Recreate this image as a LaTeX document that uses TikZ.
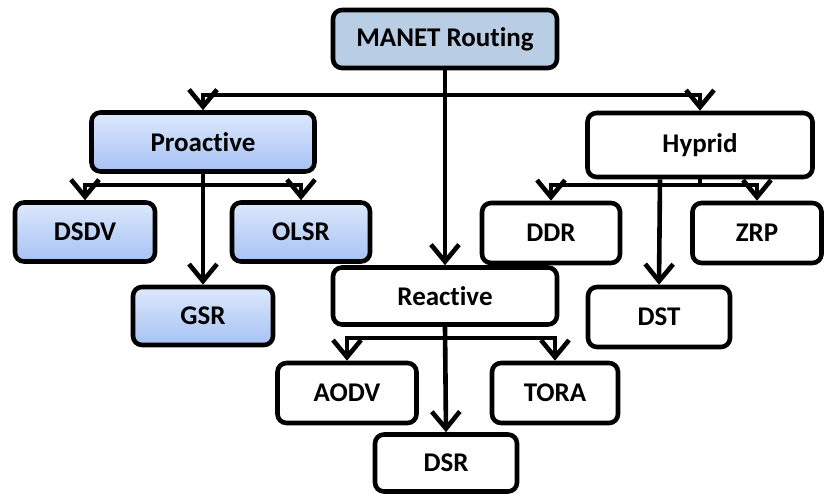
\documentclass[tikz,border=0pt]{standalone}
\usepackage{fontspec}
\setmainfont{Carlito}[Ligatures=NoCommon]
\usetikzlibrary{arrows.meta}
\definecolor{rootfill}{HTML}{B9CDE5}
\definecolor{protop}{HTML}{DDE8FC}
\definecolor{probot}{HTML}{A6C2F4}
\tikzset{
  box/.style={draw=black, line width=4.6pt, rounded corners=9pt, inner sep=0pt,
    font=\fontsize{27}{31}\selectfont\bfseries, fill=white},
  rootbox/.style={box, fill=rootfill},
  probox/.style={box, top color=protop, bottom color=probot},
  arr/.style={line width=4.6pt, -{Straight Barb[length=17pt,width=28pt]}},
  bus/.style={line width=4.6pt}
}
\begin{document}
\begin{tikzpicture}[x=1pt,y=-1pt]
\useasboundingbox (0,0) rectangle (825,494);

% nodes
\node[rootbox, minimum width=224pt, minimum height=58pt] (man) at (445,39) {MANET Routing};
\node[probox, minimum width=223pt, minimum height=59pt] (pro) at (203,142) {Proactive};
\node[probox, minimum width=140pt, minimum height=59pt] (dsdv) at (85,232) {DSDV};
\node[probox, minimum width=138pt, minimum height=59pt] (olsr) at (301,232) {OLSR};
\node[probox, minimum width=140pt, minimum height=58pt] (gsr) at (203,316) {GSR};
\node[box, minimum width=225pt, minimum height=64pt] (hyb) at (700,145) {Hyprid};
\node[box, minimum width=138pt, minimum height=60pt] (ddr) at (551,233) {DDR};
\node[box, minimum width=129pt, minimum height=60pt] (zrp) at (757,233) {ZRP};
\node[box, minimum width=142pt, minimum height=60pt] (dst) at (659,317) {DST};
\node[box, minimum width=224pt, minimum height=57pt] (rea) at (445,296) {Reactive};
\node[box, minimum width=139pt, minimum height=60pt] (aodv) at (347,393) {AODV};
\node[box, minimum width=126pt, minimum height=60pt] (tora) at (555,393) {TORA};
\node[box, minimum width=142pt, minimum height=57pt] (dsr) at (446,463) {DSR};

% bus points
\coordinate (topbus) at (445,95);
\coordinate (probus) at (203,185);
\coordinate (hybbus) at (660,185);
\coordinate (reabus) at (445,338);

% root
\draw[arr] (man.south) -- (rea.north);
\draw[arr] (topbus) -| (pro.north);
\draw[arr] (topbus) -| (hyb.north);

% proactive
\draw[arr] (pro.south) -- (gsr.north);
\draw[arr] (probus) -| (dsdv.north);
\draw[arr] (probus) -| (olsr.north);

% hybrid
\draw[bus] (hyb.south) -- (hyb.south |- hybbus);
\draw[arr] (hybbus |- hyb.south) -- (dst.north);
\draw[arr] (hyb.south |- hybbus) -| (ddr.north);
\draw[arr] (hyb.south |- hybbus) -| (zrp.north);

% reactive
\draw[arr] (rea.south) -- (dsr.north);
\draw[arr] (reabus) -| (aodv.north);
\draw[arr] (reabus) -| (tora.north);
\end{tikzpicture}
\end{document}
